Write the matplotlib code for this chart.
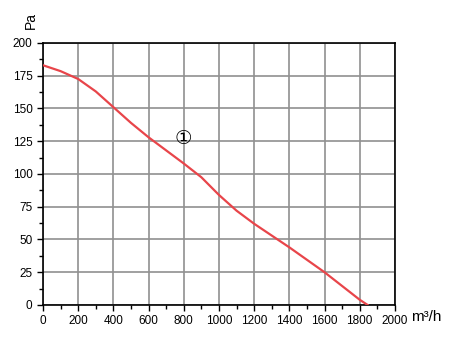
import numpy as np
import matplotlib.pyplot as plt
from matplotlib.ticker import MultipleLocator

plt.rcParams['font.family'] = ['Liberation Sans', 'DejaVu Sans']

flow = [0, 100, 200, 300, 400, 500, 600, 700, 800, 900, 1000, 1100, 1200, 1300, 1400, 1500, 1600, 1700, 1800, 1845]
pressure = [183, 178.5, 172.5, 163, 151, 139, 128, 118, 108, 97.5, 84, 72, 62, 53, 44, 34.5, 25, 14.5, 4, 0]

fig = plt.figure(figsize=(4.69, 3.57), dpi=100)
ax = fig.add_axes([0.0917, 0.1457, 0.7503, 0.7339])

ax.plot(flow, pressure, color='#e8454a', lw=1.6, zorder=3)
ax.text(795, 127, '①', fontsize=14, ha='center', va='center', family=['DejaVu Sans'])

ax.set_xlim(0, 2000)
ax.set_ylim(0, 200)
ax.xaxis.set_major_locator(MultipleLocator(200))
ax.xaxis.set_minor_locator(MultipleLocator(100))
ax.yaxis.set_major_locator(MultipleLocator(25))
ax.yaxis.set_minor_locator(MultipleLocator(12.5))
ax.grid(True, which='major', color='#909090', lw=1.2)
ax.set_axisbelow(True)
ax.tick_params(which='both', direction='out', labelsize=8.5, color='black', width=1)
ax.tick_params(which='major', length=4)
ax.tick_params(which='minor', length=3)
for s in ax.spines.values():
    s.set_color('black')
    s.set_linewidth(1.2)

fig.text(0.065, 0.92, 'Pa', rotation=90, fontsize=10, ha='center', va='bottom')
fig.text(0.876, 0.112, 'm³/h', fontsize=11, ha='left', va='center')

fig.savefig('out.png', dpi=100)
